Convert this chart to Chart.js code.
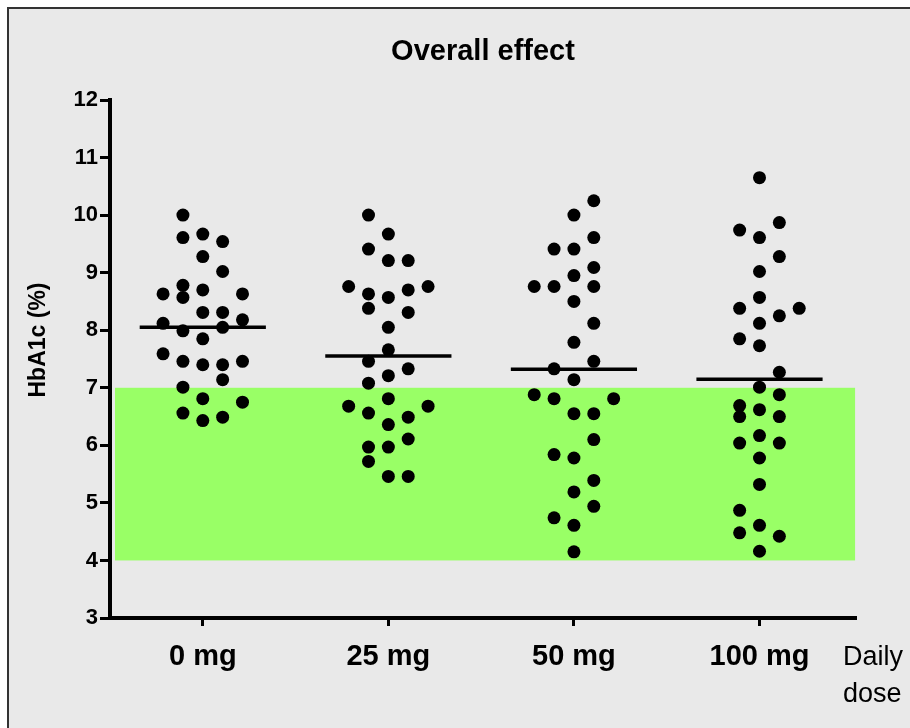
<!DOCTYPE html>
<html>
<head>
<meta charset="utf-8">
<script src="https://cdn.jsdelivr.net/npm/chart.js@4.4.1/dist/chart.umd.min.js"></script>
<style>
html, body { margin: 0; padding: 0; background: #ffffff; }
#wrap { width: 910px; height: 728px; position: relative; }
</style>
</head>
<body>
<div id="wrap"><canvas id="dotChart"></canvas></div>
<script>
// categories
var doses = ["0 mg", "25 mg", "50 mg", "100 mg"];
var yTicks = [3, 4, 5, 6, 7, 8, 9, 10, 11, 12];

// HbA1c (%) per patient
var hba1c0 = [10.00, 9.61, 9.67, 9.54, 9.28, 9.02, 8.78, 8.63, 8.57, 8.70, 8.63, 8.31, 8.31, 8.12, 8.18,
  7.99, 8.05, 7.85, 7.59, 7.46, 7.40, 7.40, 7.46, 7.14, 7.01, 6.81, 6.75, 6.56, 6.43, 6.49];
var hba1c25 = [10.00, 9.67, 9.41, 9.21, 9.21, 8.76, 8.76, 8.63, 8.57, 8.70, 8.38, 8.31, 8.05, 7.66, 7.46,
  7.33, 7.21, 7.08, 6.68, 6.68, 6.81, 6.56, 6.49, 6.36, 6.11, 5.97, 5.97, 5.72, 5.46, 5.46];
var hba1c50 = [10.25, 10.00, 9.61, 9.41, 9.41, 9.09, 8.95, 8.76, 8.76, 8.76, 8.50, 8.12, 7.79, 7.46, 7.33,
  7.14, 6.88, 6.81, 6.81, 6.55, 6.55, 6.10, 5.84, 5.78, 5.39, 5.19, 4.94, 4.74, 4.61, 4.15];
var hba1c100 = [10.65, 9.87, 9.74, 9.61, 9.28, 9.02, 8.57, 8.38, 8.38, 8.25, 8.12, 7.85, 7.73, 7.27, 7.01,
  6.88, 6.69, 6.50, 6.62, 6.50, 6.04, 6.17, 6.04, 5.78, 5.32, 4.87, 4.48, 4.61, 4.42, 4.16];

// scatter column of each dot (dot-plot spreading, as in the picture)
var col0 = [-1, -1, 0, 1, 0, 1, -1, -2, -1, 0, 2, 0, 1, -2, 2, -1, 1, 0, -2, -1, 0, 1, 2, 1, -1, 0, 2, -1, 0, 1];
var col25 = [-1, 0, -1, 0, 1, -2, 2, -1, 0, 1, -1, 1, 0, 0, -1, 1, 0, -1, -2, 2, 0, -1, 1, 0, 1, -1, 0, -1, 0, 1];
var col50 = [1, 0, 1, -1, 0, 1, 0, -2, -1, 1, 0, 1, 0, 1, -1, 0, -2, -1, 2, 0, 1, 1, -1, 0, 1, 0, 1, -1, 0, 0];
var col100 = [0, 1, -1, 0, 1, 0, 0, -1, 2, 1, 0, -1, 0, 1, 0, 1, -1, -1, 0, 1, -1, 0, 1, 0, 0, -1, -1, 0, 1, 0];

// group means (horizontal bars)
var means = [8.05, 7.55, 7.32, 7.15];

// target range band
var targetLow = 4;
var targetHigh = 7;

var groups = [hba1c0, hba1c25, hba1c50, hba1c100];
var cols = [col0, col25, col50, col100];
var colStep = 0.107;
var meanHalf = 0.34;

var datasets = [];
groups.forEach(function (vals, g) {
  datasets.push({
    type: 'scatter',
    data: vals.map(function (v, i) { return { x: g + cols[g][i] * colStep, y: v }; }),
    backgroundColor: '#000000',
    borderWidth: 0,
    pointRadius: 6.5,
    pointHoverRadius: 6.5,
    order: 2
  });
});
means.forEach(function (m, g) {
  datasets.push({
    type: 'line',
    data: [{ x: g - meanHalf, y: m }, { x: g + meanHalf, y: m }],
    borderColor: '#000000',
    borderWidth: 3.5,
    pointRadius: 0,
    fill: false,
    order: 1
  });
});

var frame = {
  id: 'frame',
  beforeDraw: function (chart) {
    var c = chart.ctx;
    c.save();
    c.fillStyle = '#ffffff';
    c.fillRect(0, 0, chart.width, chart.height);
    c.fillStyle = '#e9e9e9';
    c.fillRect(8, 8, chart.width, chart.height);
    c.strokeStyle = '#333333';
    c.lineWidth = 2;
    c.beginPath();
    c.moveTo(8, chart.height);
    c.lineTo(8, 8);
    c.lineTo(chart.width, 8);
    c.stroke();
    c.restore();
  },
  beforeDatasetsDraw: function (chart) {
    var c = chart.ctx;
    var xs = chart.scales.x, ys = chart.scales.y;
    var x0 = xs.getPixelForValue(-0.473), x1 = xs.getPixelForValue(3.515);
    var y0 = ys.getPixelForValue(targetHigh), y1 = ys.getPixelForValue(targetLow);
    c.save();
    c.fillStyle = '#99ff66';
    c.fillRect(x0, y0, x1 - x0, y1 - y0);
    c.restore();
  },
  afterDraw: function (chart) {
    var c = chart.ctx;
    var a = chart.chartArea;
    c.save();
    c.fillStyle = '#000000';
    c.textAlign = 'center';
    c.textBaseline = 'alphabetic';
    c.font = 'bold 29px "Liberation Sans", Arial, sans-serif';
    c.fillText('Overall effect', (a.left + a.right) / 2, 60);

    c.save();
    c.translate(45, 340);
    c.rotate(-Math.PI / 2);
    c.font = 'bold 23px "Liberation Sans", Arial, sans-serif';
    c.fillText('HbA1c (%)', 0, 0);
    c.restore();

    c.textAlign = 'left';
    c.font = '27px "Liberation Sans", Arial, sans-serif';
    c.fillText('Daily', 843, 665);
    c.fillText('dose', 843, 702);
    c.restore();
  }
};

var ctx = document.getElementById('dotChart').getContext('2d');
var dotChart = new Chart(ctx, {
  type: 'scatter',
  data: { datasets: datasets },
  plugins: [frame],
  options: {
    responsive: true,
    maintainAspectRatio: false,
    animation: false,
    layout: { padding: { top: 100, right: 54, left: 0, bottom: 0 } },
    plugins: {
      legend: { display: false },
      tooltip: { enabled: false },
      title: { display: false }
    },
    scales: {
      x: {
        type: 'linear',
        position: 'bottom',
        min: -0.5,
        max: 3.52,
        afterFit: function (s) { s.height = 110; },
        afterBuildTicks: function (s) {
          s.ticks = doses.map(function (d, i) { return { value: i }; });
        },
        ticks: {
          autoSkip: false,
          maxRotation: 0,
          padding: 14,
          color: '#000000',
          font: { family: '"Liberation Sans", Arial, sans-serif', size: 29, weight: 'bold' },
          callback: function (v) { return doses[v]; }
        },
        grid: {
          drawOnChartArea: false,
          drawTicks: true,
          tickLength: 8,
          tickWidth: 3,
          tickColor: '#000000'
        },
        border: { display: true, color: '#000000', width: 4 }
      },
      y: {
        min: 3,
        max: 12,
        afterFit: function (s) { s.width = 110; },
        afterBuildTicks: function (s) {
          s.ticks = yTicks.map(function (t) { return { value: t }; });
        },
        ticks: {
          padding: 2,
          color: '#000000',
          font: { family: '"Liberation Sans", Arial, sans-serif', size: 22, weight: 'bold' }
        },
        grid: {
          drawOnChartArea: false,
          drawTicks: true,
          tickLength: 10,
          tickWidth: 3,
          tickColor: '#000000'
        },
        border: { display: true, color: '#000000', width: 4 }
      }
    }
  }
});
</script>
</body>
</html>
